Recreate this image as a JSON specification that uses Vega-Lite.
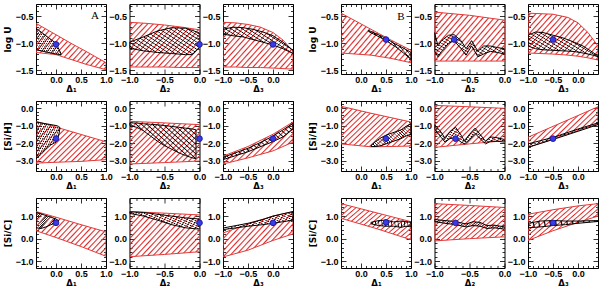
{
"$schema":"https://vega.github.io/schema/vega-lite/v6.json",
"padding":{"left":2,"top":1,"right":0,"bottom":0},
"background":"white",
"columns":7,
"spacing":{"row":27,"column":23.5},
"bounds":"flush",
"align":"each",
"config":{
"view":{"stroke":"#000","strokeWidth":1},
"axis":{"domain":false,"grid":false,"labelFont":"Liberation Sans","labelFontSize":9,"labelFontWeight":"bold","labelColor":"#000","labelFlush":false,"labelOverlap":false,"labelPadding":6,"tickColor":"#000","tickWidth":0.8,"titleFont":"DejaVu Sans","titleFontSize":8.5,"titleFontWeight":"bold","titleColor":"#000","titlePadding":-2},
"axisY":{"labelPadding":8,"titlePadding":3,"titleFontSize":9},
"style":{
"redhatch":{"stroke":"#e23a3a","strokeWidth":1,"color":{"gradient":"linear","x1":0,"y1":0,"x2":1.18,"y2":0.71,"stops":[
{"offset":0.012,"color":"rgba(226,38,38,0)"},{"offset":0.025,"color":"#e22626"},{"offset":0.038,"color":"rgba(226,38,38,0)"},
{"offset":0.062,"color":"rgba(226,38,38,0)"},{"offset":0.075,"color":"#e22626"},{"offset":0.088,"color":"rgba(226,38,38,0)"},
{"offset":0.112,"color":"rgba(226,38,38,0)"},{"offset":0.125,"color":"#e22626"},{"offset":0.138,"color":"rgba(226,38,38,0)"},
{"offset":0.162,"color":"rgba(226,38,38,0)"},{"offset":0.175,"color":"#e22626"},{"offset":0.188,"color":"rgba(226,38,38,0)"},
{"offset":0.212,"color":"rgba(226,38,38,0)"},{"offset":0.225,"color":"#e22626"},{"offset":0.238,"color":"rgba(226,38,38,0)"},
{"offset":0.262,"color":"rgba(226,38,38,0)"},{"offset":0.275,"color":"#e22626"},{"offset":0.288,"color":"rgba(226,38,38,0)"},
{"offset":0.312,"color":"rgba(226,38,38,0)"},{"offset":0.325,"color":"#e22626"},{"offset":0.338,"color":"rgba(226,38,38,0)"},
{"offset":0.362,"color":"rgba(226,38,38,0)"},{"offset":0.375,"color":"#e22626"},{"offset":0.388,"color":"rgba(226,38,38,0)"},
{"offset":0.412,"color":"rgba(226,38,38,0)"},{"offset":0.425,"color":"#e22626"},{"offset":0.438,"color":"rgba(226,38,38,0)"},
{"offset":0.462,"color":"rgba(226,38,38,0)"},{"offset":0.475,"color":"#e22626"},{"offset":0.488,"color":"rgba(226,38,38,0)"},
{"offset":0.512,"color":"rgba(226,38,38,0)"},{"offset":0.525,"color":"#e22626"},{"offset":0.538,"color":"rgba(226,38,38,0)"},
{"offset":0.562,"color":"rgba(226,38,38,0)"},{"offset":0.575,"color":"#e22626"},{"offset":0.588,"color":"rgba(226,38,38,0)"},
{"offset":0.612,"color":"rgba(226,38,38,0)"},{"offset":0.625,"color":"#e22626"},{"offset":0.638,"color":"rgba(226,38,38,0)"},
{"offset":0.662,"color":"rgba(226,38,38,0)"},{"offset":0.675,"color":"#e22626"},{"offset":0.688,"color":"rgba(226,38,38,0)"},
{"offset":0.712,"color":"rgba(226,38,38,0)"},{"offset":0.725,"color":"#e22626"},{"offset":0.738,"color":"rgba(226,38,38,0)"},
{"offset":0.762,"color":"rgba(226,38,38,0)"},{"offset":0.775,"color":"#e22626"},{"offset":0.788,"color":"rgba(226,38,38,0)"},
{"offset":0.812,"color":"rgba(226,38,38,0)"},{"offset":0.825,"color":"#e22626"},{"offset":0.838,"color":"rgba(226,38,38,0)"},
{"offset":0.862,"color":"rgba(226,38,38,0)"},{"offset":0.875,"color":"#e22626"},{"offset":0.888,"color":"rgba(226,38,38,0)"},
{"offset":0.912,"color":"rgba(226,38,38,0)"},{"offset":0.925,"color":"#e22626"},{"offset":0.938,"color":"rgba(226,38,38,0)"},
{"offset":0.962,"color":"rgba(226,38,38,0)"},{"offset":0.975,"color":"#e22626"},{"offset":0.988,"color":"rgba(226,38,38,0)"}]}},
"blackhatch":{"stroke":"#000","strokeWidth":1,"color":{"gradient":"linear","x1":1,"y1":0,"x2":-0.18,"y2":0.71,"stops":[
{"offset":0.014,"color":"rgba(0,0,0,0)"},{"offset":0.025,"color":"#000"},{"offset":0.036,"color":"rgba(0,0,0,0)"},
{"offset":0.064,"color":"rgba(0,0,0,0)"},{"offset":0.075,"color":"#000"},{"offset":0.086,"color":"rgba(0,0,0,0)"},
{"offset":0.114,"color":"rgba(0,0,0,0)"},{"offset":0.125,"color":"#000"},{"offset":0.136,"color":"rgba(0,0,0,0)"},
{"offset":0.164,"color":"rgba(0,0,0,0)"},{"offset":0.175,"color":"#000"},{"offset":0.186,"color":"rgba(0,0,0,0)"},
{"offset":0.214,"color":"rgba(0,0,0,0)"},{"offset":0.225,"color":"#000"},{"offset":0.236,"color":"rgba(0,0,0,0)"},
{"offset":0.264,"color":"rgba(0,0,0,0)"},{"offset":0.275,"color":"#000"},{"offset":0.286,"color":"rgba(0,0,0,0)"},
{"offset":0.314,"color":"rgba(0,0,0,0)"},{"offset":0.325,"color":"#000"},{"offset":0.336,"color":"rgba(0,0,0,0)"},
{"offset":0.364,"color":"rgba(0,0,0,0)"},{"offset":0.375,"color":"#000"},{"offset":0.386,"color":"rgba(0,0,0,0)"},
{"offset":0.414,"color":"rgba(0,0,0,0)"},{"offset":0.425,"color":"#000"},{"offset":0.436,"color":"rgba(0,0,0,0)"},
{"offset":0.464,"color":"rgba(0,0,0,0)"},{"offset":0.475,"color":"#000"},{"offset":0.486,"color":"rgba(0,0,0,0)"},
{"offset":0.514,"color":"rgba(0,0,0,0)"},{"offset":0.525,"color":"#000"},{"offset":0.536,"color":"rgba(0,0,0,0)"},
{"offset":0.564,"color":"rgba(0,0,0,0)"},{"offset":0.575,"color":"#000"},{"offset":0.586,"color":"rgba(0,0,0,0)"},
{"offset":0.614,"color":"rgba(0,0,0,0)"},{"offset":0.625,"color":"#000"},{"offset":0.636,"color":"rgba(0,0,0,0)"},
{"offset":0.664,"color":"rgba(0,0,0,0)"},{"offset":0.675,"color":"#000"},{"offset":0.686,"color":"rgba(0,0,0,0)"},
{"offset":0.714,"color":"rgba(0,0,0,0)"},{"offset":0.725,"color":"#000"},{"offset":0.736,"color":"rgba(0,0,0,0)"},
{"offset":0.764,"color":"rgba(0,0,0,0)"},{"offset":0.775,"color":"#000"},{"offset":0.786,"color":"rgba(0,0,0,0)"},
{"offset":0.814,"color":"rgba(0,0,0,0)"},{"offset":0.825,"color":"#000"},{"offset":0.836,"color":"rgba(0,0,0,0)"},
{"offset":0.864,"color":"rgba(0,0,0,0)"},{"offset":0.875,"color":"#000"},{"offset":0.886,"color":"rgba(0,0,0,0)"},
{"offset":0.914,"color":"rgba(0,0,0,0)"},{"offset":0.925,"color":"#000"},{"offset":0.936,"color":"rgba(0,0,0,0)"},
{"offset":0.964,"color":"rgba(0,0,0,0)"},{"offset":0.975,"color":"#000"},{"offset":0.986,"color":"rgba(0,0,0,0)"}]}}
}
},
"concat":[
{"width":70,"height":70,"resolve":{"axis":{"x":"independent","y":"independent"}},"layer":[
{"data":{"values":[{"x":-0.4,"lo":-1.17,"hi":-0.63},{"x":0,"lo":-1.21,"hi":-0.84},{"x":0.3,"lo":-1.3,"hi":-1.0},{"x":0.6,"lo":-1.39,"hi":-1.15},{"x":1,"lo":-1.49,"hi":-1.36}]},"mark":{"type":"area","style":"redhatch","clip":true},
"encoding":{"x":{"field":"x","type":"quantitative","scale":{"domain":[-0.4,1],"nice":false,"zero":false},"axis":{"orient":"bottom","values":[-0.4,-0.3,-0.2,-0.1,0,0.1,0.2,0.3,0.4,0.5,0.6,0.7,0.8,0.9,1],"labelExpr":"abs(datum.value*2-round(datum.value*2))<0.01 ? format(datum.value,'.1f') : ''","tickSize":{"condition":{"test":"abs(datum.value*2-round(datum.value*2))<0.01","value":-5},"value":-2.5},"title":"Δ₁"}},
"y":{"field":"lo","type":"quantitative","scale":{"domain":[-1.57,-0.27],"nice":false,"zero":false},"axis":{"orient":"left","values":[-1.5,-1.4,-1.3,-1.2,-1.1,-1,-0.9,-0.8,-0.7,-0.6,-0.5,-0.4,-0.3],"labelExpr":"abs(datum.value*2-round(datum.value*2))<0.01 ? format(datum.value,'.1f') : ''","tickSize":{"condition":{"test":"abs(datum.value*2-round(datum.value*2))<0.01","value":-5},"value":-2.5},"title":"log U"}},"y2":{"field":"hi"}}},
{"data":{"values":[{"x":-0.4,"lo":-1.12,"hi":-0.72},{"x":-0.2,"lo":-1.16,"hi":-0.86},{"x":0,"lo":-1.2,"hi":-1.0},{"x":0.1,"lo":-1.21,"hi":-1.19}]},"mark":{"type":"area","style":"blackhatch","clip":true},
"encoding":{"x":{"field":"x","type":"quantitative","scale":{"domain":[-0.4,1],"nice":false,"zero":false},"axis":{"orient":"top","values":[-0.4,-0.3,-0.2,-0.1,0,0.1,0.2,0.3,0.4,0.5,0.6,0.7,0.8,0.9,1],"labels":false,"title":null,"tickSize":{"condition":{"test":"abs(datum.value*2-round(datum.value*2))<0.01","value":-5},"value":-2.5}}},
"y":{"field":"lo","type":"quantitative","scale":{"domain":[-1.57,-0.27],"nice":false,"zero":false},"axis":{"orient":"right","values":[-1.5,-1.4,-1.3,-1.2,-1.1,-1,-0.9,-0.8,-0.7,-0.6,-0.5,-0.4,-0.3],"labels":false,"title":null,"tickSize":{"condition":{"test":"abs(datum.value*2-round(datum.value*2))<0.01","value":-5},"value":-2.5}}},"y2":{"field":"hi"}}},
{"data":{"values":[{"x":0,"lo":-1.02}]},"mark":{"type":"point","filled":true,"shape":"circle","size":32,"fill":"#3a3ae6","stroke":"#1c1ca8","strokeWidth":1,"opacity":1},
"encoding":{"x":{"field":"x","type":"quantitative","scale":{"domain":[-0.4,1],"nice":false,"zero":false},"axis":null},"y":{"field":"lo","type":"quantitative","scale":{"domain":[-1.57,-0.27],"nice":false,"zero":false},"axis":null}}},
{"data":{"values":[{"x":0.78,"lo":-0.5,"t":"A"}]},"mark":{"type":"text","font":"Liberation Serif","fontSize":11,"color":"#000"},
"encoding":{"x":{"field":"x","type":"quantitative","scale":{"domain":[-0.4,1],"nice":false,"zero":false},"axis":null},"y":{"field":"lo","type":"quantitative","scale":{"domain":[-1.57,-0.27],"nice":false,"zero":false},"axis":null},"text":{"field":"t"}}}
]},
{"width":70,"height":70,"resolve":{"axis":{"x":"independent","y":"independent"}},"layer":[
{"data":{"values":[{"x":-1,"lo":-1.44,"hi":-0.61},{"x":-0.75,"lo":-1.44,"hi":-0.63},{"x":-0.5,"lo":-1.44,"hi":-0.66},{"x":-0.25,"lo":-1.45,"hi":-0.7},{"x":0,"lo":-1.45,"hi":-0.75}]},"mark":{"type":"area","style":"redhatch","clip":true},
"encoding":{"x":{"field":"x","type":"quantitative","scale":{"domain":[-1,0],"nice":false,"zero":false},"axis":{"orient":"bottom","values":[-1,-0.9,-0.8,-0.7,-0.6,-0.5,-0.4,-0.3,-0.2,-0.1,0],"labelExpr":"abs(datum.value*2-round(datum.value*2))<0.01 ? format(datum.value,'.1f') : ''","tickSize":{"condition":{"test":"abs(datum.value*2-round(datum.value*2))<0.01","value":-5},"value":-2.5},"title":"Δ₂"}},
"y":{"field":"lo","type":"quantitative","scale":{"domain":[-1.57,-0.27],"nice":false,"zero":false},"axis":{"orient":"left","values":[-1.5,-1.4,-1.3,-1.2,-1.1,-1,-0.9,-0.8,-0.7,-0.6,-0.5,-0.4,-0.3],"labelExpr":"abs(datum.value*2-round(datum.value*2))<0.01 ? format(datum.value,'.1f') : ''","tickSize":{"condition":{"test":"abs(datum.value*2-round(datum.value*2))<0.01","value":-5},"value":-2.5},"title":null}},"y2":{"field":"hi"}}},
{"data":{"values":[{"x":-1,"lo":-1.09,"hi":-0.98},{"x":-0.8,"lo":-1.14,"hi":-0.88},{"x":-0.6,"lo":-1.17,"hi":-0.77},{"x":-0.4,"lo":-1.19,"hi":-0.71},{"x":-0.2,"lo":-1.21,"hi":-0.72},{"x":-0.1,"lo":-1.21,"hi":-0.76},{"x":0,"lo":-1.08,"hi":-0.81}]},"mark":{"type":"area","style":"blackhatch","clip":true},
"encoding":{"x":{"field":"x","type":"quantitative","scale":{"domain":[-1,0],"nice":false,"zero":false},"axis":{"orient":"top","values":[-1,-0.9,-0.8,-0.7,-0.6,-0.5,-0.4,-0.3,-0.2,-0.1,0],"labels":false,"title":null,"tickSize":{"condition":{"test":"abs(datum.value*2-round(datum.value*2))<0.01","value":-5},"value":-2.5}}},
"y":{"field":"lo","type":"quantitative","scale":{"domain":[-1.57,-0.27],"nice":false,"zero":false},"axis":{"orient":"right","values":[-1.5,-1.4,-1.3,-1.2,-1.1,-1,-0.9,-0.8,-0.7,-0.6,-0.5,-0.4,-0.3],"labels":false,"title":null,"tickSize":{"condition":{"test":"abs(datum.value*2-round(datum.value*2))<0.01","value":-5},"value":-2.5}}},"y2":{"field":"hi"}}},
{"data":{"values":[{"x":0,"lo":-1.02}]},"mark":{"type":"point","filled":true,"shape":"circle","size":32,"fill":"#3a3ae6","stroke":"#1c1ca8","strokeWidth":1,"opacity":1},
"encoding":{"x":{"field":"x","type":"quantitative","scale":{"domain":[-1,0],"nice":false,"zero":false},"axis":null},"y":{"field":"lo","type":"quantitative","scale":{"domain":[-1.57,-0.27],"nice":false,"zero":false},"axis":null}}}
]},
{"width":70,"height":70,"resolve":{"axis":{"x":"independent","y":"independent"}},"layer":[
{"data":{"values":[{"x":-1,"lo":-1.44,"hi":-0.61},{"x":-0.75,"lo":-1.44,"hi":-0.62},{"x":-0.5,"lo":-1.45,"hi":-0.65},{"x":-0.25,"lo":-1.45,"hi":-0.7},{"x":0,"lo":-1.46,"hi":-0.8},{"x":0.2,"lo":-1.47,"hi":-0.94},{"x":0.4,"lo":-1.48,"hi":-1.15}]},"mark":{"type":"area","style":"redhatch","clip":true},
"encoding":{"x":{"field":"x","type":"quantitative","scale":{"domain":[-1,0.4],"nice":false,"zero":false},"axis":{"orient":"bottom","values":[-1,-0.9,-0.8,-0.7,-0.6,-0.5,-0.4,-0.3,-0.2,-0.1,0,0.1,0.2,0.3,0.4],"labelExpr":"abs(datum.value*2-round(datum.value*2))<0.01 ? format(datum.value,'.1f') : ''","tickSize":{"condition":{"test":"abs(datum.value*2-round(datum.value*2))<0.01","value":-5},"value":-2.5},"title":"Δ₃"}},
"y":{"field":"lo","type":"quantitative","scale":{"domain":[-1.57,-0.27],"nice":false,"zero":false},"axis":{"orient":"left","values":[-1.5,-1.4,-1.3,-1.2,-1.1,-1,-0.9,-0.8,-0.7,-0.6,-0.5,-0.4,-0.3],"labelExpr":"abs(datum.value*2-round(datum.value*2))<0.01 ? format(datum.value,'.1f') : ''","tickSize":{"condition":{"test":"abs(datum.value*2-round(datum.value*2))<0.01","value":-5},"value":-2.5},"title":null}},"y2":{"field":"hi"}}},
{"data":{"values":[{"x":-1,"lo":-0.83,"hi":-0.74},{"x":-0.8,"lo":-0.86,"hi":-0.7},{"x":-0.6,"lo":-0.88,"hi":-0.71},{"x":-0.4,"lo":-0.93,"hi":-0.74},{"x":-0.2,"lo":-0.98,"hi":-0.79},{"x":0,"lo":-1.03,"hi":-0.86},{"x":0.2,"lo":-1.1,"hi":-0.98},{"x":0.4,"lo":-1.19,"hi":-1.13}]},"mark":{"type":"area","style":"blackhatch","clip":true},
"encoding":{"x":{"field":"x","type":"quantitative","scale":{"domain":[-1,0.4],"nice":false,"zero":false},"axis":{"orient":"top","values":[-1,-0.9,-0.8,-0.7,-0.6,-0.5,-0.4,-0.3,-0.2,-0.1,0,0.1,0.2,0.3,0.4],"labels":false,"title":null,"tickSize":{"condition":{"test":"abs(datum.value*2-round(datum.value*2))<0.01","value":-5},"value":-2.5}}},
"y":{"field":"lo","type":"quantitative","scale":{"domain":[-1.57,-0.27],"nice":false,"zero":false},"axis":{"orient":"right","values":[-1.5,-1.4,-1.3,-1.2,-1.1,-1,-0.9,-0.8,-0.7,-0.6,-0.5,-0.4,-0.3],"labels":false,"title":null,"tickSize":{"condition":{"test":"abs(datum.value*2-round(datum.value*2))<0.01","value":-5},"value":-2.5}}},"y2":{"field":"hi"}}},
{"data":{"values":[{"x":0,"lo":-1.02}]},"mark":{"type":"point","filled":true,"shape":"circle","size":32,"fill":"#3a3ae6","stroke":"#1c1ca8","strokeWidth":1,"opacity":1},
"encoding":{"x":{"field":"x","type":"quantitative","scale":{"domain":[-1,0.4],"nice":false,"zero":false},"axis":null},"y":{"field":"lo","type":"quantitative","scale":{"domain":[-1.57,-0.27],"nice":false,"zero":false},"axis":null}}}
]},
{"width":1,"height":70,"view":{"stroke":null},"data":{"values":[{"x":0}]},"mark":{"type":"point","opacity":0},"encoding":{"x":{"field":"x","type":"quantitative","axis":null},"y":{"field":"x","type":"quantitative","axis":null}}},
{"width":70,"height":70,"resolve":{"axis":{"x":"independent","y":"independent"}},"layer":[
{"data":{"values":[{"x":-0.4,"lo":-1.18,"hi":-0.44},{"x":0.2,"lo":-1.22,"hi":-0.74},{"x":0.6,"lo":-1.28,"hi":-0.94},{"x":1,"lo":-1.36,"hi":-1.13}]},"mark":{"type":"area","style":"redhatch","clip":true},
"encoding":{"x":{"field":"x","type":"quantitative","scale":{"domain":[-0.4,1],"nice":false,"zero":false},"axis":{"orient":"bottom","values":[-0.4,-0.3,-0.2,-0.1,0,0.1,0.2,0.3,0.4,0.5,0.6,0.7,0.8,0.9,1],"labelExpr":"abs(datum.value*2-round(datum.value*2))<0.01 ? format(datum.value,'.1f') : ''","tickSize":{"condition":{"test":"abs(datum.value*2-round(datum.value*2))<0.01","value":-5},"value":-2.5},"title":"Δ₁"}},
"y":{"field":"lo","type":"quantitative","scale":{"domain":[-1.57,-0.27],"nice":false,"zero":false},"axis":{"orient":"left","values":[-1.5,-1.4,-1.3,-1.2,-1.1,-1,-0.9,-0.8,-0.7,-0.6,-0.5,-0.4,-0.3],"labelExpr":"abs(datum.value*2-round(datum.value*2))<0.01 ? format(datum.value,'.1f') : ''","tickSize":{"condition":{"test":"abs(datum.value*2-round(datum.value*2))<0.01","value":-5},"value":-2.5},"title":"log U"}},"y2":{"field":"hi"}}},
{"data":{"values":[{"x":0.15,"lo":-0.78,"hi":-0.76},{"x":0.3,"lo":-0.85,"hi":-0.82},{"x":0.5,"lo":-0.95,"hi":-0.91},{"x":0.7,"lo":-1.07,"hi":-1.02},{"x":0.85,"lo":-1.18,"hi":-1.09},{"x":1,"lo":-1.3,"hi":-1.17}]},"mark":{"type":"area","style":"blackhatch","clip":true},
"encoding":{"x":{"field":"x","type":"quantitative","scale":{"domain":[-0.4,1],"nice":false,"zero":false},"axis":{"orient":"top","values":[-0.4,-0.3,-0.2,-0.1,0,0.1,0.2,0.3,0.4,0.5,0.6,0.7,0.8,0.9,1],"labels":false,"title":null,"tickSize":{"condition":{"test":"abs(datum.value*2-round(datum.value*2))<0.01","value":-5},"value":-2.5}}},
"y":{"field":"lo","type":"quantitative","scale":{"domain":[-1.57,-0.27],"nice":false,"zero":false},"axis":{"orient":"right","values":[-1.5,-1.4,-1.3,-1.2,-1.1,-1,-0.9,-0.8,-0.7,-0.6,-0.5,-0.4,-0.3],"labels":false,"title":null,"tickSize":{"condition":{"test":"abs(datum.value*2-round(datum.value*2))<0.01","value":-5},"value":-2.5}}},"y2":{"field":"hi"}}},
{"data":{"values":[{"x":0.5,"lo":-0.93}]},"mark":{"type":"point","filled":true,"shape":"circle","size":32,"fill":"#3a3ae6","stroke":"#1c1ca8","strokeWidth":1,"opacity":1},
"encoding":{"x":{"field":"x","type":"quantitative","scale":{"domain":[-0.4,1],"nice":false,"zero":false},"axis":null},"y":{"field":"lo","type":"quantitative","scale":{"domain":[-1.57,-0.27],"nice":false,"zero":false},"axis":null}}},
{"data":{"values":[{"x":0.8,"lo":-0.52,"t":"B"}]},"mark":{"type":"text","font":"Liberation Serif","fontSize":11,"color":"#000"},
"encoding":{"x":{"field":"x","type":"quantitative","scale":{"domain":[-0.4,1],"nice":false,"zero":false},"axis":null},"y":{"field":"lo","type":"quantitative","scale":{"domain":[-1.57,-0.27],"nice":false,"zero":false},"axis":null},"text":{"field":"t"}}}
]},
{"width":70,"height":70,"resolve":{"axis":{"x":"independent","y":"independent"}},"layer":[
{"data":{"values":[{"x":-1,"lo":-1.33,"hi":-0.42},{"x":-0.5,"lo":-1.33,"hi":-0.48},{"x":0,"lo":-1.33,"hi":-0.57}]},"mark":{"type":"area","style":"redhatch","clip":true},
"encoding":{"x":{"field":"x","type":"quantitative","scale":{"domain":[-1,0],"nice":false,"zero":false},"axis":{"orient":"bottom","values":[-1,-0.9,-0.8,-0.7,-0.6,-0.5,-0.4,-0.3,-0.2,-0.1,0],"labelExpr":"abs(datum.value*2-round(datum.value*2))<0.01 ? format(datum.value,'.1f') : ''","tickSize":{"condition":{"test":"abs(datum.value*2-round(datum.value*2))<0.01","value":-5},"value":-2.5},"title":"Δ₂"}},
"y":{"field":"lo","type":"quantitative","scale":{"domain":[-1.57,-0.27],"nice":false,"zero":false},"axis":{"orient":"left","values":[-1.5,-1.4,-1.3,-1.2,-1.1,-1,-0.9,-0.8,-0.7,-0.6,-0.5,-0.4,-0.3],"labelExpr":"abs(datum.value*2-round(datum.value*2))<0.01 ? format(datum.value,'.1f') : ''","tickSize":{"condition":{"test":"abs(datum.value*2-round(datum.value*2))<0.01","value":-5},"value":-2.5},"title":null}},"y2":{"field":"hi"}}},
{"data":{"values":[{"x":-1,"lo":-1.15,"hi":-0.8},{"x":-0.95,"lo":-1.25,"hi":-1.05},{"x":-0.9,"lo":-1.15,"hi":-0.95},{"x":-0.8,"lo":-1.0,"hi":-0.85},{"x":-0.72,"lo":-0.95,"hi":-0.84},{"x":-0.62,"lo":-1.1,"hi":-0.95},{"x":-0.55,"lo":-1.22,"hi":-1.1},{"x":-0.47,"lo":-1.05,"hi":-0.95},{"x":-0.38,"lo":-1.25,"hi":-1.15},{"x":-0.3,"lo":-1.2,"hi":-1.05},{"x":-0.2,"lo":-1.15,"hi":-1.05},{"x":-0.1,"lo":-1.17,"hi":-1.08},{"x":0,"lo":-1.2,"hi":-1.1}]},"mark":{"type":"area","style":"blackhatch","clip":true},
"encoding":{"x":{"field":"x","type":"quantitative","scale":{"domain":[-1,0],"nice":false,"zero":false},"axis":{"orient":"top","values":[-1,-0.9,-0.8,-0.7,-0.6,-0.5,-0.4,-0.3,-0.2,-0.1,0],"labels":false,"title":null,"tickSize":{"condition":{"test":"abs(datum.value*2-round(datum.value*2))<0.01","value":-5},"value":-2.5}}},
"y":{"field":"lo","type":"quantitative","scale":{"domain":[-1.57,-0.27],"nice":false,"zero":false},"axis":{"orient":"right","values":[-1.5,-1.4,-1.3,-1.2,-1.1,-1,-0.9,-0.8,-0.7,-0.6,-0.5,-0.4,-0.3],"labels":false,"title":null,"tickSize":{"condition":{"test":"abs(datum.value*2-round(datum.value*2))<0.01","value":-5},"value":-2.5}}},"y2":{"field":"hi"}}},
{"data":{"values":[{"x":-0.72,"lo":-0.93}]},"mark":{"type":"point","filled":true,"shape":"circle","size":32,"fill":"#3a3ae6","stroke":"#1c1ca8","strokeWidth":1,"opacity":1},
"encoding":{"x":{"field":"x","type":"quantitative","scale":{"domain":[-1,0],"nice":false,"zero":false},"axis":null},"y":{"field":"lo","type":"quantitative","scale":{"domain":[-1.57,-0.27],"nice":false,"zero":false},"axis":null}}}
]},
{"width":70,"height":70,"resolve":{"axis":{"x":"independent","y":"independent"}},"layer":[
{"data":{"values":[{"x":-1,"lo":-1.18,"hi":-0.44},{"x":-0.5,"lo":-1.2,"hi":-0.46},{"x":-0.2,"lo":-1.22,"hi":-0.52},{"x":0,"lo":-1.24,"hi":-0.62},{"x":0.2,"lo":-1.27,"hi":-0.8},{"x":0.4,"lo":-1.31,"hi":-1.05}]},"mark":{"type":"area","style":"redhatch","clip":true},
"encoding":{"x":{"field":"x","type":"quantitative","scale":{"domain":[-1,0.4],"nice":false,"zero":false},"axis":{"orient":"bottom","values":[-1,-0.9,-0.8,-0.7,-0.6,-0.5,-0.4,-0.3,-0.2,-0.1,0,0.1,0.2,0.3,0.4],"labelExpr":"abs(datum.value*2-round(datum.value*2))<0.01 ? format(datum.value,'.1f') : ''","tickSize":{"condition":{"test":"abs(datum.value*2-round(datum.value*2))<0.01","value":-5},"value":-2.5},"title":"Δ₃"}},
"y":{"field":"lo","type":"quantitative","scale":{"domain":[-1.57,-0.27],"nice":false,"zero":false},"axis":{"orient":"left","values":[-1.5,-1.4,-1.3,-1.2,-1.1,-1,-0.9,-0.8,-0.7,-0.6,-0.5,-0.4,-0.3],"labelExpr":"abs(datum.value*2-round(datum.value*2))<0.01 ? format(datum.value,'.1f') : ''","tickSize":{"condition":{"test":"abs(datum.value*2-round(datum.value*2))<0.01","value":-5},"value":-2.5},"title":null}},"y2":{"field":"hi"}}},
{"data":{"values":[{"x":-1,"lo":-1.05,"hi":-0.85},{"x":-0.85,"lo":-1.1,"hi":-0.79},{"x":-0.7,"lo":-1.12,"hi":-0.8},{"x":-0.5,"lo":-1.13,"hi":-0.85},{"x":-0.3,"lo":-1.14,"hi":-0.9},{"x":-0.1,"lo":-1.15,"hi":-0.97},{"x":0.1,"lo":-1.18,"hi":-1.05},{"x":0.3,"lo":-1.22,"hi":-1.17},{"x":0.4,"lo":-1.25,"hi":-1.24}]},"mark":{"type":"area","style":"blackhatch","clip":true},
"encoding":{"x":{"field":"x","type":"quantitative","scale":{"domain":[-1,0.4],"nice":false,"zero":false},"axis":{"orient":"top","values":[-1,-0.9,-0.8,-0.7,-0.6,-0.5,-0.4,-0.3,-0.2,-0.1,0,0.1,0.2,0.3,0.4],"labels":false,"title":null,"tickSize":{"condition":{"test":"abs(datum.value*2-round(datum.value*2))<0.01","value":-5},"value":-2.5}}},
"y":{"field":"lo","type":"quantitative","scale":{"domain":[-1.57,-0.27],"nice":false,"zero":false},"axis":{"orient":"right","values":[-1.5,-1.4,-1.3,-1.2,-1.1,-1,-0.9,-0.8,-0.7,-0.6,-0.5,-0.4,-0.3],"labels":false,"title":null,"tickSize":{"condition":{"test":"abs(datum.value*2-round(datum.value*2))<0.01","value":-5},"value":-2.5}}},"y2":{"field":"hi"}}},
{"data":{"values":[{"x":-0.5,"lo":-0.93}]},"mark":{"type":"point","filled":true,"shape":"circle","size":32,"fill":"#3a3ae6","stroke":"#1c1ca8","strokeWidth":1,"opacity":1},
"encoding":{"x":{"field":"x","type":"quantitative","scale":{"domain":[-1,0.4],"nice":false,"zero":false},"axis":null},"y":{"field":"lo","type":"quantitative","scale":{"domain":[-1.57,-0.27],"nice":false,"zero":false},"axis":null}}}
]},
{"width":70,"height":70,"resolve":{"axis":{"x":"independent","y":"independent"}},"layer":[
{"data":{"values":[{"x":-0.4,"lo":-3.15,"hi":-0.76},{"x":0,"lo":-3.1,"hi":-1.09},{"x":0.5,"lo":-3.05,"hi":-1.51},{"x":1,"lo":-2.95,"hi":-1.93}]},"mark":{"type":"area","style":"redhatch","clip":true},
"encoding":{"x":{"field":"x","type":"quantitative","scale":{"domain":[-0.4,1],"nice":false,"zero":false},"axis":{"orient":"bottom","values":[-0.4,-0.3,-0.2,-0.1,0,0.1,0.2,0.3,0.4,0.5,0.6,0.7,0.8,0.9,1],"labelExpr":"abs(datum.value*2-round(datum.value*2))<0.01 ? format(datum.value,'.1f') : ''","tickSize":{"condition":{"test":"abs(datum.value*2-round(datum.value*2))<0.01","value":-5},"value":-2.5},"title":"Δ₁"}},
"y":{"field":"lo","type":"quantitative","scale":{"domain":[-3.6,0.4],"nice":false,"zero":false},"axis":{"orient":"left","values":[-3.6,-3.4,-3.2,-3,-2.8,-2.6,-2.4,-2.2,-2,-1.8,-1.6,-1.4,-1.2,-1,-0.8,-0.6,-0.4,-0.2,0,0.2,0.4],"labelExpr":"abs(datum.value*2-round(datum.value*2))<0.01 ? format(datum.value,'.1f') : ''","tickSize":{"condition":{"test":"abs(datum.value*2-round(datum.value*2))<0.01","value":-5},"value":-2.5},"title":"[Si/H]"}},"y2":{"field":"hi"}}},
{"data":{"values":[{"x":-0.4,"lo":-2.9,"hi":-0.8},{"x":-0.3,"lo":-2.65,"hi":-0.85},{"x":-0.2,"lo":-2.35,"hi":-0.9},{"x":-0.1,"lo":-2.1,"hi":-0.95},{"x":0,"lo":-1.95,"hi":-1.0},{"x":0.05,"lo":-1.6,"hi":-1.05},{"x":0.08,"lo":-1.15,"hi":-1.12}]},"mark":{"type":"area","style":"blackhatch","clip":true},
"encoding":{"x":{"field":"x","type":"quantitative","scale":{"domain":[-0.4,1],"nice":false,"zero":false},"axis":{"orient":"top","values":[-0.4,-0.3,-0.2,-0.1,0,0.1,0.2,0.3,0.4,0.5,0.6,0.7,0.8,0.9,1],"labels":false,"title":null,"tickSize":{"condition":{"test":"abs(datum.value*2-round(datum.value*2))<0.01","value":-5},"value":-2.5}}},
"y":{"field":"lo","type":"quantitative","scale":{"domain":[-3.6,0.4],"nice":false,"zero":false},"axis":{"orient":"right","values":[-3.6,-3.4,-3.2,-3,-2.8,-2.6,-2.4,-2.2,-2,-1.8,-1.6,-1.4,-1.2,-1,-0.8,-0.6,-0.4,-0.2,0,0.2,0.4],"labels":false,"title":null,"tickSize":{"condition":{"test":"abs(datum.value*2-round(datum.value*2))<0.01","value":-5},"value":-2.5}}},"y2":{"field":"hi"}}},
{"data":{"values":[{"x":0,"lo":-1.75}]},"mark":{"type":"point","filled":true,"shape":"circle","size":32,"fill":"#3a3ae6","stroke":"#1c1ca8","strokeWidth":1,"opacity":1},
"encoding":{"x":{"field":"x","type":"quantitative","scale":{"domain":[-0.4,1],"nice":false,"zero":false},"axis":null},"y":{"field":"lo","type":"quantitative","scale":{"domain":[-3.6,0.4],"nice":false,"zero":false},"axis":null}}}
]},
{"width":70,"height":70,"resolve":{"axis":{"x":"independent","y":"independent"}},"layer":[
{"data":{"values":[{"x":-1,"lo":-3.2,"hi":-0.76},{"x":-0.5,"lo":-3.12,"hi":-0.85},{"x":0,"lo":-3.03,"hi":-0.95}]},"mark":{"type":"area","style":"redhatch","clip":true},
"encoding":{"x":{"field":"x","type":"quantitative","scale":{"domain":[-1,0],"nice":false,"zero":false},"axis":{"orient":"bottom","values":[-1,-0.9,-0.8,-0.7,-0.6,-0.5,-0.4,-0.3,-0.2,-0.1,0],"labelExpr":"abs(datum.value*2-round(datum.value*2))<0.01 ? format(datum.value,'.1f') : ''","tickSize":{"condition":{"test":"abs(datum.value*2-round(datum.value*2))<0.01","value":-5},"value":-2.5},"title":"Δ₂"}},
"y":{"field":"lo","type":"quantitative","scale":{"domain":[-3.6,0.4],"nice":false,"zero":false},"axis":{"orient":"left","values":[-3.6,-3.4,-3.2,-3,-2.8,-2.6,-2.4,-2.2,-2,-1.8,-1.6,-1.4,-1.2,-1,-0.8,-0.6,-0.4,-0.2,0,0.2,0.4],"labelExpr":"abs(datum.value*2-round(datum.value*2))<0.01 ? format(datum.value,'.1f') : ''","tickSize":{"condition":{"test":"abs(datum.value*2-round(datum.value*2))<0.01","value":-5},"value":-2.5},"title":null}},"y2":{"field":"hi"}}},
{"data":{"values":[{"x":-1,"lo":-1.0,"hi":-0.85},{"x":-0.9,"lo":-1.1,"hi":-0.86},{"x":-0.8,"lo":-1.3,"hi":-0.9},{"x":-0.7,"lo":-1.6,"hi":-0.93},{"x":-0.6,"lo":-1.9,"hi":-0.96},{"x":-0.5,"lo":-2.15,"hi":-1.0},{"x":-0.4,"lo":-2.35,"hi":-1.05},{"x":-0.3,"lo":-2.55,"hi":-1.1},{"x":-0.2,"lo":-2.72,"hi":-1.15},{"x":-0.1,"lo":-2.85,"hi":-1.2},{"x":-0.05,"lo":-2.9,"hi":-1.25}]},"mark":{"type":"area","style":"blackhatch","clip":true},
"encoding":{"x":{"field":"x","type":"quantitative","scale":{"domain":[-1,0],"nice":false,"zero":false},"axis":{"orient":"top","values":[-1,-0.9,-0.8,-0.7,-0.6,-0.5,-0.4,-0.3,-0.2,-0.1,0],"labels":false,"title":null,"tickSize":{"condition":{"test":"abs(datum.value*2-round(datum.value*2))<0.01","value":-5},"value":-2.5}}},
"y":{"field":"lo","type":"quantitative","scale":{"domain":[-3.6,0.4],"nice":false,"zero":false},"axis":{"orient":"right","values":[-3.6,-3.4,-3.2,-3,-2.8,-2.6,-2.4,-2.2,-2,-1.8,-1.6,-1.4,-1.2,-1,-0.8,-0.6,-0.4,-0.2,0,0.2,0.4],"labels":false,"title":null,"tickSize":{"condition":{"test":"abs(datum.value*2-round(datum.value*2))<0.01","value":-5},"value":-2.5}}},"y2":{"field":"hi"}}},
{"data":{"values":[{"x":0,"lo":-1.75}]},"mark":{"type":"point","filled":true,"shape":"circle","size":32,"fill":"#3a3ae6","stroke":"#1c1ca8","strokeWidth":1,"opacity":1},
"encoding":{"x":{"field":"x","type":"quantitative","scale":{"domain":[-1,0],"nice":false,"zero":false},"axis":null},"y":{"field":"lo","type":"quantitative","scale":{"domain":[-3.6,0.4],"nice":false,"zero":false},"axis":null}}}
]},
{"width":70,"height":70,"resolve":{"axis":{"x":"independent","y":"independent"}},"layer":[
{"data":{"values":[{"x":-1,"lo":-3.2,"hi":-2.75},{"x":-0.5,"lo":-2.85,"hi":-2.2},{"x":0,"lo":-2.45,"hi":-1.5},{"x":0.4,"lo":-1.95,"hi":-0.8}]},"mark":{"type":"area","style":"redhatch","clip":true},
"encoding":{"x":{"field":"x","type":"quantitative","scale":{"domain":[-1,0.4],"nice":false,"zero":false},"axis":{"orient":"bottom","values":[-1,-0.9,-0.8,-0.7,-0.6,-0.5,-0.4,-0.3,-0.2,-0.1,0,0.1,0.2,0.3,0.4],"labelExpr":"abs(datum.value*2-round(datum.value*2))<0.01 ? format(datum.value,'.1f') : ''","tickSize":{"condition":{"test":"abs(datum.value*2-round(datum.value*2))<0.01","value":-5},"value":-2.5},"title":"Δ₃"}},
"y":{"field":"lo","type":"quantitative","scale":{"domain":[-3.6,0.4],"nice":false,"zero":false},"axis":{"orient":"left","values":[-3.6,-3.4,-3.2,-3,-2.8,-2.6,-2.4,-2.2,-2,-1.8,-1.6,-1.4,-1.2,-1,-0.8,-0.6,-0.4,-0.2,0,0.2,0.4],"labelExpr":"abs(datum.value*2-round(datum.value*2))<0.01 ? format(datum.value,'.1f') : ''","tickSize":{"condition":{"test":"abs(datum.value*2-round(datum.value*2))<0.01","value":-5},"value":-2.5},"title":null}},"y2":{"field":"hi"}}},
{"data":{"values":[{"x":-1,"lo":-2.95,"hi":-2.82},{"x":-0.5,"lo":-2.5,"hi":-2.3},{"x":-0.2,"lo":-2.15,"hi":-1.9},{"x":0,"lo":-1.92,"hi":-1.6},{"x":0.2,"lo":-1.65,"hi":-1.25},{"x":0.4,"lo":-1.2,"hi":-0.88}]},"mark":{"type":"area","style":"blackhatch","clip":true},
"encoding":{"x":{"field":"x","type":"quantitative","scale":{"domain":[-1,0.4],"nice":false,"zero":false},"axis":{"orient":"top","values":[-1,-0.9,-0.8,-0.7,-0.6,-0.5,-0.4,-0.3,-0.2,-0.1,0,0.1,0.2,0.3,0.4],"labels":false,"title":null,"tickSize":{"condition":{"test":"abs(datum.value*2-round(datum.value*2))<0.01","value":-5},"value":-2.5}}},
"y":{"field":"lo","type":"quantitative","scale":{"domain":[-3.6,0.4],"nice":false,"zero":false},"axis":{"orient":"right","values":[-3.6,-3.4,-3.2,-3,-2.8,-2.6,-2.4,-2.2,-2,-1.8,-1.6,-1.4,-1.2,-1,-0.8,-0.6,-0.4,-0.2,0,0.2,0.4],"labels":false,"title":null,"tickSize":{"condition":{"test":"abs(datum.value*2-round(datum.value*2))<0.01","value":-5},"value":-2.5}}},"y2":{"field":"hi"}}},
{"data":{"values":[{"x":0,"lo":-1.75}]},"mark":{"type":"point","filled":true,"shape":"circle","size":32,"fill":"#3a3ae6","stroke":"#1c1ca8","strokeWidth":1,"opacity":1},
"encoding":{"x":{"field":"x","type":"quantitative","scale":{"domain":[-1,0.4],"nice":false,"zero":false},"axis":null},"y":{"field":"lo","type":"quantitative","scale":{"domain":[-3.6,0.4],"nice":false,"zero":false},"axis":null}}}
]},
{"width":1,"height":70,"view":{"stroke":null},"data":{"values":[{"x":0}]},"mark":{"type":"point","opacity":0},"encoding":{"x":{"field":"x","type":"quantitative","axis":null},"y":{"field":"x","type":"quantitative","axis":null}}},
{"width":70,"height":70,"resolve":{"axis":{"x":"independent","y":"independent"}},"layer":[
{"data":{"values":[{"x":-0.4,"lo":-2.05,"hi":0.1},{"x":0.2,"lo":-2.22,"hi":-0.3},{"x":0.6,"lo":-2.2,"hi":-0.55},{"x":1,"lo":-2.17,"hi":-0.8}]},"mark":{"type":"area","style":"redhatch","clip":true},
"encoding":{"x":{"field":"x","type":"quantitative","scale":{"domain":[-0.4,1],"nice":false,"zero":false},"axis":{"orient":"bottom","values":[-0.4,-0.3,-0.2,-0.1,0,0.1,0.2,0.3,0.4,0.5,0.6,0.7,0.8,0.9,1],"labelExpr":"abs(datum.value*2-round(datum.value*2))<0.01 ? format(datum.value,'.1f') : ''","tickSize":{"condition":{"test":"abs(datum.value*2-round(datum.value*2))<0.01","value":-5},"value":-2.5},"title":"Δ₁"}},
"y":{"field":"lo","type":"quantitative","scale":{"domain":[-3.6,0.4],"nice":false,"zero":false},"axis":{"orient":"left","values":[-3.6,-3.4,-3.2,-3,-2.8,-2.6,-2.4,-2.2,-2,-1.8,-1.6,-1.4,-1.2,-1,-0.8,-0.6,-0.4,-0.2,0,0.2,0.4],"labelExpr":"abs(datum.value*2-round(datum.value*2))<0.01 ? format(datum.value,'.1f') : ''","tickSize":{"condition":{"test":"abs(datum.value*2-round(datum.value*2))<0.01","value":-5},"value":-2.5},"title":"[Si/H]"}},"y2":{"field":"hi"}}},
{"data":{"values":[{"x":0.2,"lo":-2.2,"hi":-2.15},{"x":0.3,"lo":-2.2,"hi":-1.9},{"x":0.4,"lo":-2.15,"hi":-1.7},{"x":0.5,"lo":-2.05,"hi":-1.55},{"x":0.6,"lo":-1.95,"hi":-1.45},{"x":0.7,"lo":-1.85,"hi":-1.35},{"x":0.8,"lo":-1.75,"hi":-1.25},{"x":0.9,"lo":-1.6,"hi":-1.05},{"x":1,"lo":-1.5,"hi":-0.9}]},"mark":{"type":"area","style":"blackhatch","clip":true},
"encoding":{"x":{"field":"x","type":"quantitative","scale":{"domain":[-0.4,1],"nice":false,"zero":false},"axis":{"orient":"top","values":[-0.4,-0.3,-0.2,-0.1,0,0.1,0.2,0.3,0.4,0.5,0.6,0.7,0.8,0.9,1],"labels":false,"title":null,"tickSize":{"condition":{"test":"abs(datum.value*2-round(datum.value*2))<0.01","value":-5},"value":-2.5}}},
"y":{"field":"lo","type":"quantitative","scale":{"domain":[-3.6,0.4],"nice":false,"zero":false},"axis":{"orient":"right","values":[-3.6,-3.4,-3.2,-3,-2.8,-2.6,-2.4,-2.2,-2,-1.8,-1.6,-1.4,-1.2,-1,-0.8,-0.6,-0.4,-0.2,0,0.2,0.4],"labels":false,"title":null,"tickSize":{"condition":{"test":"abs(datum.value*2-round(datum.value*2))<0.01","value":-5},"value":-2.5}}},"y2":{"field":"hi"}}},
{"data":{"values":[{"x":0.5,"lo":-1.75}]},"mark":{"type":"point","filled":true,"shape":"circle","size":32,"fill":"#3a3ae6","stroke":"#1c1ca8","strokeWidth":1,"opacity":1},
"encoding":{"x":{"field":"x","type":"quantitative","scale":{"domain":[-0.4,1],"nice":false,"zero":false},"axis":null},"y":{"field":"lo","type":"quantitative","scale":{"domain":[-3.6,0.4],"nice":false,"zero":false},"axis":null}}}
]},
{"width":70,"height":70,"resolve":{"axis":{"x":"independent","y":"independent"}},"layer":[
{"data":{"values":[{"x":-1,"lo":-2.25,"hi":0.15},{"x":-0.5,"lo":-2.05,"hi":0.07},{"x":0,"lo":-1.87,"hi":-0.02}]},"mark":{"type":"area","style":"redhatch","clip":true},
"encoding":{"x":{"field":"x","type":"quantitative","scale":{"domain":[-1,0],"nice":false,"zero":false},"axis":{"orient":"bottom","values":[-1,-0.9,-0.8,-0.7,-0.6,-0.5,-0.4,-0.3,-0.2,-0.1,0],"labelExpr":"abs(datum.value*2-round(datum.value*2))<0.01 ? format(datum.value,'.1f') : ''","tickSize":{"condition":{"test":"abs(datum.value*2-round(datum.value*2))<0.01","value":-5},"value":-2.5},"title":"Δ₂"}},
"y":{"field":"lo","type":"quantitative","scale":{"domain":[-3.6,0.4],"nice":false,"zero":false},"axis":{"orient":"left","values":[-3.6,-3.4,-3.2,-3,-2.8,-2.6,-2.4,-2.2,-2,-1.8,-1.6,-1.4,-1.2,-1,-0.8,-0.6,-0.4,-0.2,0,0.2,0.4],"labelExpr":"abs(datum.value*2-round(datum.value*2))<0.01 ? format(datum.value,'.1f') : ''","tickSize":{"condition":{"test":"abs(datum.value*2-round(datum.value*2))<0.01","value":-5},"value":-2.5},"title":null}},"y2":{"field":"hi"}}},
{"data":{"values":[{"x":-1,"lo":-1.2,"hi":-0.95},{"x":-0.9,"lo":-1.7,"hi":-1.4},{"x":-0.85,"lo":-1.95,"hi":-1.75},{"x":-0.78,"lo":-1.75,"hi":-1.35},{"x":-0.7,"lo":-1.7,"hi":-1.1},{"x":-0.62,"lo":-1.95,"hi":-1.55},{"x":-0.57,"lo":-2.05,"hi":-1.9},{"x":-0.5,"lo":-1.8,"hi":-1.5},{"x":-0.42,"lo":-1.45,"hi":-1.15},{"x":-0.35,"lo":-1.75,"hi":-1.5},{"x":-0.27,"lo":-2.05,"hi":-1.9},{"x":-0.2,"lo":-1.9,"hi":-1.65},{"x":-0.1,"lo":-1.9,"hi":-1.7},{"x":0,"lo":-1.95,"hi":-1.8}]},"mark":{"type":"area","style":"blackhatch","clip":true},
"encoding":{"x":{"field":"x","type":"quantitative","scale":{"domain":[-1,0],"nice":false,"zero":false},"axis":{"orient":"top","values":[-1,-0.9,-0.8,-0.7,-0.6,-0.5,-0.4,-0.3,-0.2,-0.1,0],"labels":false,"title":null,"tickSize":{"condition":{"test":"abs(datum.value*2-round(datum.value*2))<0.01","value":-5},"value":-2.5}}},
"y":{"field":"lo","type":"quantitative","scale":{"domain":[-3.6,0.4],"nice":false,"zero":false},"axis":{"orient":"right","values":[-3.6,-3.4,-3.2,-3,-2.8,-2.6,-2.4,-2.2,-2,-1.8,-1.6,-1.4,-1.2,-1,-0.8,-0.6,-0.4,-0.2,0,0.2,0.4],"labels":false,"title":null,"tickSize":{"condition":{"test":"abs(datum.value*2-round(datum.value*2))<0.01","value":-5},"value":-2.5}}},"y2":{"field":"hi"}}},
{"data":{"values":[{"x":-0.7,"lo":-1.75}]},"mark":{"type":"point","filled":true,"shape":"circle","size":32,"fill":"#3a3ae6","stroke":"#1c1ca8","strokeWidth":1,"opacity":1},
"encoding":{"x":{"field":"x","type":"quantitative","scale":{"domain":[-1,0],"nice":false,"zero":false},"axis":null},"y":{"field":"lo","type":"quantitative","scale":{"domain":[-3.6,0.4],"nice":false,"zero":false},"axis":null}}}
]},
{"width":70,"height":70,"resolve":{"axis":{"x":"independent","y":"independent"}},"layer":[
{"data":{"values":[{"x":-1,"lo":-2.25,"hi":-1.67},{"x":-0.5,"lo":-1.76,"hi":-1.05},{"x":0,"lo":-1.28,"hi":-0.43},{"x":0.4,"lo":-0.89,"hi":0.07}]},"mark":{"type":"area","style":"redhatch","clip":true},
"encoding":{"x":{"field":"x","type":"quantitative","scale":{"domain":[-1,0.4],"nice":false,"zero":false},"axis":{"orient":"bottom","values":[-1,-0.9,-0.8,-0.7,-0.6,-0.5,-0.4,-0.3,-0.2,-0.1,0,0.1,0.2,0.3,0.4],"labelExpr":"abs(datum.value*2-round(datum.value*2))<0.01 ? format(datum.value,'.1f') : ''","tickSize":{"condition":{"test":"abs(datum.value*2-round(datum.value*2))<0.01","value":-5},"value":-2.5},"title":"Δ₃"}},
"y":{"field":"lo","type":"quantitative","scale":{"domain":[-3.6,0.4],"nice":false,"zero":false},"axis":{"orient":"left","values":[-3.6,-3.4,-3.2,-3,-2.8,-2.6,-2.4,-2.2,-2,-1.8,-1.6,-1.4,-1.2,-1,-0.8,-0.6,-0.4,-0.2,0,0.2,0.4],"labelExpr":"abs(datum.value*2-round(datum.value*2))<0.01 ? format(datum.value,'.1f') : ''","tickSize":{"condition":{"test":"abs(datum.value*2-round(datum.value*2))<0.01","value":-5},"value":-2.5},"title":null}},"y2":{"field":"hi"}}},
{"data":{"values":[{"x":-1,"lo":-2.25,"hi":-2.05},{"x":-0.5,"lo":-1.8,"hi":-1.68},{"x":0,"lo":-1.33,"hi":-1.2},{"x":0.4,"lo":-0.95,"hi":-0.85}]},"mark":{"type":"area","style":"blackhatch","clip":true},
"encoding":{"x":{"field":"x","type":"quantitative","scale":{"domain":[-1,0.4],"nice":false,"zero":false},"axis":{"orient":"top","values":[-1,-0.9,-0.8,-0.7,-0.6,-0.5,-0.4,-0.3,-0.2,-0.1,0,0.1,0.2,0.3,0.4],"labels":false,"title":null,"tickSize":{"condition":{"test":"abs(datum.value*2-round(datum.value*2))<0.01","value":-5},"value":-2.5}}},
"y":{"field":"lo","type":"quantitative","scale":{"domain":[-3.6,0.4],"nice":false,"zero":false},"axis":{"orient":"right","values":[-3.6,-3.4,-3.2,-3,-2.8,-2.6,-2.4,-2.2,-2,-1.8,-1.6,-1.4,-1.2,-1,-0.8,-0.6,-0.4,-0.2,0,0.2,0.4],"labels":false,"title":null,"tickSize":{"condition":{"test":"abs(datum.value*2-round(datum.value*2))<0.01","value":-5},"value":-2.5}}},"y2":{"field":"hi"}}},
{"data":{"values":[{"x":-0.5,"lo":-1.75}]},"mark":{"type":"point","filled":true,"shape":"circle","size":32,"fill":"#3a3ae6","stroke":"#1c1ca8","strokeWidth":1,"opacity":1},
"encoding":{"x":{"field":"x","type":"quantitative","scale":{"domain":[-1,0.4],"nice":false,"zero":false},"axis":null},"y":{"field":"lo","type":"quantitative","scale":{"domain":[-3.6,0.4],"nice":false,"zero":false},"axis":null}}}
]},
{"width":70,"height":70,"resolve":{"axis":{"x":"independent","y":"independent"}},"layer":[
{"data":{"values":[{"x":-0.4,"lo":0.35,"hi":1.2},{"x":0,"lo":0.05,"hi":0.95},{"x":0.5,"lo":-0.35,"hi":0.62},{"x":1,"lo":-0.78,"hi":0.3}]},"mark":{"type":"area","style":"redhatch","clip":true},
"encoding":{"x":{"field":"x","type":"quantitative","scale":{"domain":[-0.4,1],"nice":false,"zero":false},"axis":{"orient":"bottom","values":[-0.4,-0.3,-0.2,-0.1,0,0.1,0.2,0.3,0.4,0.5,0.6,0.7,0.8,0.9,1],"labelExpr":"abs(datum.value*2-round(datum.value*2))<0.01 ? format(datum.value,'.1f') : ''","tickSize":{"condition":{"test":"abs(datum.value*2-round(datum.value*2))<0.01","value":-5},"value":-2.5},"title":"Δ₁"}},
"y":{"field":"lo","type":"quantitative","scale":{"domain":[-1.3,1.8],"nice":false,"zero":false},"axis":{"orient":"left","values":[-1.2,-1,-0.8,-0.6,-0.4,-0.2,0,0.2,0.4,0.6,0.8,1,1.2,1.4,1.6,1.8],"labelExpr":"abs(datum.value*2-round(datum.value*2))<0.01 ? format(datum.value,'.1f') : ''","tickSize":{"condition":{"test":"abs(datum.value*2-round(datum.value*2))<0.01","value":-5},"value":-2.5},"title":"[Si/C]"}},"y2":{"field":"hi"}}},
{"data":{"values":[{"x":-0.4,"lo":0.48,"hi":1.16},{"x":-0.3,"lo":0.45,"hi":1.1},{"x":-0.2,"lo":0.52,"hi":1.02},{"x":-0.1,"lo":0.62,"hi":0.95},{"x":0,"lo":0.7,"hi":0.87},{"x":0.05,"lo":0.76,"hi":0.8}]},"mark":{"type":"area","style":"blackhatch","clip":true},
"encoding":{"x":{"field":"x","type":"quantitative","scale":{"domain":[-0.4,1],"nice":false,"zero":false},"axis":{"orient":"top","values":[-0.4,-0.3,-0.2,-0.1,0,0.1,0.2,0.3,0.4,0.5,0.6,0.7,0.8,0.9,1],"labels":false,"title":null,"tickSize":{"condition":{"test":"abs(datum.value*2-round(datum.value*2))<0.01","value":-5},"value":-2.5}}},
"y":{"field":"lo","type":"quantitative","scale":{"domain":[-1.3,1.8],"nice":false,"zero":false},"axis":{"orient":"right","values":[-1.2,-1,-0.8,-0.6,-0.4,-0.2,0,0.2,0.4,0.6,0.8,1,1.2,1.4,1.6,1.8],"labels":false,"title":null,"tickSize":{"condition":{"test":"abs(datum.value*2-round(datum.value*2))<0.01","value":-5},"value":-2.5}}},"y2":{"field":"hi"}}},
{"data":{"values":[{"x":0,"lo":0.7}]},"mark":{"type":"point","filled":true,"shape":"circle","size":32,"fill":"#3a3ae6","stroke":"#1c1ca8","strokeWidth":1,"opacity":1},
"encoding":{"x":{"field":"x","type":"quantitative","scale":{"domain":[-0.4,1],"nice":false,"zero":false},"axis":null},"y":{"field":"lo","type":"quantitative","scale":{"domain":[-1.3,1.8],"nice":false,"zero":false},"axis":null}}}
]},
{"width":70,"height":70,"resolve":{"axis":{"x":"independent","y":"independent"}},"layer":[
{"data":{"values":[{"x":-1,"lo":-0.8,"hi":1.2},{"x":-0.5,"lo":-0.7,"hi":1.13},{"x":0,"lo":-0.58,"hi":1.05}]},"mark":{"type":"area","style":"redhatch","clip":true},
"encoding":{"x":{"field":"x","type":"quantitative","scale":{"domain":[-1,0],"nice":false,"zero":false},"axis":{"orient":"bottom","values":[-1,-0.9,-0.8,-0.7,-0.6,-0.5,-0.4,-0.3,-0.2,-0.1,0],"labelExpr":"abs(datum.value*2-round(datum.value*2))<0.01 ? format(datum.value,'.1f') : ''","tickSize":{"condition":{"test":"abs(datum.value*2-round(datum.value*2))<0.01","value":-5},"value":-2.5},"title":"Δ₂"}},
"y":{"field":"lo","type":"quantitative","scale":{"domain":[-1.3,1.8],"nice":false,"zero":false},"axis":{"orient":"left","values":[-1.2,-1,-0.8,-0.6,-0.4,-0.2,0,0.2,0.4,0.6,0.8,1,1.2,1.4,1.6,1.8],"labelExpr":"abs(datum.value*2-round(datum.value*2))<0.01 ? format(datum.value,'.1f') : ''","tickSize":{"condition":{"test":"abs(datum.value*2-round(datum.value*2))<0.01","value":-5},"value":-2.5},"title":null}},"y2":{"field":"hi"}}},
{"data":{"values":[{"x":-1,"lo":1.12,"hi":1.19},{"x":-0.8,"lo":1.0,"hi":1.16},{"x":-0.6,"lo":0.82,"hi":1.08},{"x":-0.4,"lo":0.62,"hi":1.0},{"x":-0.2,"lo":0.48,"hi":0.92},{"x":0,"lo":0.42,"hi":0.87}]},"mark":{"type":"area","style":"blackhatch","clip":true},
"encoding":{"x":{"field":"x","type":"quantitative","scale":{"domain":[-1,0],"nice":false,"zero":false},"axis":{"orient":"top","values":[-1,-0.9,-0.8,-0.7,-0.6,-0.5,-0.4,-0.3,-0.2,-0.1,0],"labels":false,"title":null,"tickSize":{"condition":{"test":"abs(datum.value*2-round(datum.value*2))<0.01","value":-5},"value":-2.5}}},
"y":{"field":"lo","type":"quantitative","scale":{"domain":[-1.3,1.8],"nice":false,"zero":false},"axis":{"orient":"right","values":[-1.2,-1,-0.8,-0.6,-0.4,-0.2,0,0.2,0.4,0.6,0.8,1,1.2,1.4,1.6,1.8],"labels":false,"title":null,"tickSize":{"condition":{"test":"abs(datum.value*2-round(datum.value*2))<0.01","value":-5},"value":-2.5}}},"y2":{"field":"hi"}}},
{"data":{"values":[{"x":0,"lo":0.7}]},"mark":{"type":"point","filled":true,"shape":"circle","size":32,"fill":"#3a3ae6","stroke":"#1c1ca8","strokeWidth":1,"opacity":1},
"encoding":{"x":{"field":"x","type":"quantitative","scale":{"domain":[-1,0],"nice":false,"zero":false},"axis":null},"y":{"field":"lo","type":"quantitative","scale":{"domain":[-1.3,1.8],"nice":false,"zero":false},"axis":null}}}
]},
{"width":70,"height":70,"resolve":{"axis":{"x":"independent","y":"independent"}},"layer":[
{"data":{"values":[{"x":-1,"lo":-0.81,"hi":0.25},{"x":-0.5,"lo":-0.51,"hi":0.65},{"x":0,"lo":-0.08,"hi":1.0},{"x":0.4,"lo":0.21,"hi":1.2}]},"mark":{"type":"area","style":"redhatch","clip":true},
"encoding":{"x":{"field":"x","type":"quantitative","scale":{"domain":[-1,0.4],"nice":false,"zero":false},"axis":{"orient":"bottom","values":[-1,-0.9,-0.8,-0.7,-0.6,-0.5,-0.4,-0.3,-0.2,-0.1,0,0.1,0.2,0.3,0.4],"labelExpr":"abs(datum.value*2-round(datum.value*2))<0.01 ? format(datum.value,'.1f') : ''","tickSize":{"condition":{"test":"abs(datum.value*2-round(datum.value*2))<0.01","value":-5},"value":-2.5},"title":"Δ₃"}},
"y":{"field":"lo","type":"quantitative","scale":{"domain":[-1.3,1.8],"nice":false,"zero":false},"axis":{"orient":"left","values":[-1.2,-1,-0.8,-0.6,-0.4,-0.2,0,0.2,0.4,0.6,0.8,1,1.2,1.4,1.6,1.8],"labelExpr":"abs(datum.value*2-round(datum.value*2))<0.01 ? format(datum.value,'.1f') : ''","tickSize":{"condition":{"test":"abs(datum.value*2-round(datum.value*2))<0.01","value":-5},"value":-2.5},"title":null}},"y2":{"field":"hi"}}},
{"data":{"values":[{"x":-1,"lo":0.4,"hi":0.47},{"x":-0.5,"lo":0.55,"hi":0.68},{"x":-0.2,"lo":0.62,"hi":0.85},{"x":0,"lo":0.68,"hi":1.0},{"x":0.2,"lo":0.75,"hi":1.1},{"x":0.4,"lo":0.82,"hi":1.2}]},"mark":{"type":"area","style":"blackhatch","clip":true},
"encoding":{"x":{"field":"x","type":"quantitative","scale":{"domain":[-1,0.4],"nice":false,"zero":false},"axis":{"orient":"top","values":[-1,-0.9,-0.8,-0.7,-0.6,-0.5,-0.4,-0.3,-0.2,-0.1,0,0.1,0.2,0.3,0.4],"labels":false,"title":null,"tickSize":{"condition":{"test":"abs(datum.value*2-round(datum.value*2))<0.01","value":-5},"value":-2.5}}},
"y":{"field":"lo","type":"quantitative","scale":{"domain":[-1.3,1.8],"nice":false,"zero":false},"axis":{"orient":"right","values":[-1.2,-1,-0.8,-0.6,-0.4,-0.2,0,0.2,0.4,0.6,0.8,1,1.2,1.4,1.6,1.8],"labels":false,"title":null,"tickSize":{"condition":{"test":"abs(datum.value*2-round(datum.value*2))<0.01","value":-5},"value":-2.5}}},"y2":{"field":"hi"}}},
{"data":{"values":[{"x":0,"lo":0.7}]},"mark":{"type":"point","filled":true,"shape":"circle","size":32,"fill":"#3a3ae6","stroke":"#1c1ca8","strokeWidth":1,"opacity":1},
"encoding":{"x":{"field":"x","type":"quantitative","scale":{"domain":[-1,0.4],"nice":false,"zero":false},"axis":null},"y":{"field":"lo","type":"quantitative","scale":{"domain":[-1.3,1.8],"nice":false,"zero":false},"axis":null}}}
]},
{"width":1,"height":70,"view":{"stroke":null},"data":{"values":[{"x":0}]},"mark":{"type":"point","opacity":0},"encoding":{"x":{"field":"x","type":"quantitative","axis":null},"y":{"field":"x","type":"quantitative","axis":null}}},
{"width":70,"height":70,"resolve":{"axis":{"x":"independent","y":"independent"}},"layer":[
{"data":{"values":[{"x":-0.4,"lo":0.9,"hi":1.55},{"x":0.3,"lo":0.45,"hi":1.15},{"x":1,"lo":-0.05,"hi":0.75}]},"mark":{"type":"area","style":"redhatch","clip":true},
"encoding":{"x":{"field":"x","type":"quantitative","scale":{"domain":[-0.4,1],"nice":false,"zero":false},"axis":{"orient":"bottom","values":[-0.4,-0.3,-0.2,-0.1,0,0.1,0.2,0.3,0.4,0.5,0.6,0.7,0.8,0.9,1],"labelExpr":"abs(datum.value*2-round(datum.value*2))<0.01 ? format(datum.value,'.1f') : ''","tickSize":{"condition":{"test":"abs(datum.value*2-round(datum.value*2))<0.01","value":-5},"value":-2.5},"title":"Δ₁"}},
"y":{"field":"lo","type":"quantitative","scale":{"domain":[-1.3,1.8],"nice":false,"zero":false},"axis":{"orient":"left","values":[-1.2,-1,-0.8,-0.6,-0.4,-0.2,0,0.2,0.4,0.6,0.8,1,1.2,1.4,1.6,1.8],"labelExpr":"abs(datum.value*2-round(datum.value*2))<0.01 ? format(datum.value,'.1f') : ''","tickSize":{"condition":{"test":"abs(datum.value*2-round(datum.value*2))<0.01","value":-5},"value":-2.5},"title":"[Si/C]"}},"y2":{"field":"hi"}}},
{"data":{"values":[{"x":0.2,"lo":0.66,"hi":0.72},{"x":0.35,"lo":0.58,"hi":0.8},{"x":0.5,"lo":0.55,"hi":0.82},{"x":0.65,"lo":0.55,"hi":0.74},{"x":0.8,"lo":0.5,"hi":0.78},{"x":0.9,"lo":0.55,"hi":0.75},{"x":1,"lo":0.52,"hi":0.72}]},"mark":{"type":"area","style":"blackhatch","clip":true},
"encoding":{"x":{"field":"x","type":"quantitative","scale":{"domain":[-0.4,1],"nice":false,"zero":false},"axis":{"orient":"top","values":[-0.4,-0.3,-0.2,-0.1,0,0.1,0.2,0.3,0.4,0.5,0.6,0.7,0.8,0.9,1],"labels":false,"title":null,"tickSize":{"condition":{"test":"abs(datum.value*2-round(datum.value*2))<0.01","value":-5},"value":-2.5}}},
"y":{"field":"lo","type":"quantitative","scale":{"domain":[-1.3,1.8],"nice":false,"zero":false},"axis":{"orient":"right","values":[-1.2,-1,-0.8,-0.6,-0.4,-0.2,0,0.2,0.4,0.6,0.8,1,1.2,1.4,1.6,1.8],"labels":false,"title":null,"tickSize":{"condition":{"test":"abs(datum.value*2-round(datum.value*2))<0.01","value":-5},"value":-2.5}}},"y2":{"field":"hi"}}},
{"data":{"values":[{"x":0.5,"lo":0.72}]},"mark":{"type":"point","filled":true,"shape":"circle","size":32,"fill":"#3a3ae6","stroke":"#1c1ca8","strokeWidth":1,"opacity":1},
"encoding":{"x":{"field":"x","type":"quantitative","scale":{"domain":[-0.4,1],"nice":false,"zero":false},"axis":null},"y":{"field":"lo","type":"quantitative","scale":{"domain":[-1.3,1.8],"nice":false,"zero":false},"axis":null}}}
]},
{"width":70,"height":70,"resolve":{"axis":{"x":"independent","y":"independent"}},"layer":[
{"data":{"values":[{"x":-1,"lo":-0.1,"hi":1.55},{"x":-0.5,"lo":0.0,"hi":1.47},{"x":0,"lo":0.08,"hi":1.38}]},"mark":{"type":"area","style":"redhatch","clip":true},
"encoding":{"x":{"field":"x","type":"quantitative","scale":{"domain":[-1,0],"nice":false,"zero":false},"axis":{"orient":"bottom","values":[-1,-0.9,-0.8,-0.7,-0.6,-0.5,-0.4,-0.3,-0.2,-0.1,0],"labelExpr":"abs(datum.value*2-round(datum.value*2))<0.01 ? format(datum.value,'.1f') : ''","tickSize":{"condition":{"test":"abs(datum.value*2-round(datum.value*2))<0.01","value":-5},"value":-2.5},"title":"Δ₂"}},
"y":{"field":"lo","type":"quantitative","scale":{"domain":[-1.3,1.8],"nice":false,"zero":false},"axis":{"orient":"left","values":[-1.2,-1,-0.8,-0.6,-0.4,-0.2,0,0.2,0.4,0.6,0.8,1,1.2,1.4,1.6,1.8],"labelExpr":"abs(datum.value*2-round(datum.value*2))<0.01 ? format(datum.value,'.1f') : ''","tickSize":{"condition":{"test":"abs(datum.value*2-round(datum.value*2))<0.01","value":-5},"value":-2.5},"title":null}},"y2":{"field":"hi"}}},
{"data":{"values":[{"x":-1,"lo":0.75,"hi":0.85},{"x":-0.85,"lo":0.68,"hi":0.8},{"x":-0.7,"lo":0.62,"hi":0.76},{"x":-0.55,"lo":0.52,"hi":0.65},{"x":-0.45,"lo":0.58,"hi":0.75},{"x":-0.35,"lo":0.55,"hi":0.72},{"x":-0.25,"lo":0.45,"hi":0.58},{"x":-0.15,"lo":0.48,"hi":0.6},{"x":0,"lo":0.42,"hi":0.52}]},"mark":{"type":"area","style":"blackhatch","clip":true},
"encoding":{"x":{"field":"x","type":"quantitative","scale":{"domain":[-1,0],"nice":false,"zero":false},"axis":{"orient":"top","values":[-1,-0.9,-0.8,-0.7,-0.6,-0.5,-0.4,-0.3,-0.2,-0.1,0],"labels":false,"title":null,"tickSize":{"condition":{"test":"abs(datum.value*2-round(datum.value*2))<0.01","value":-5},"value":-2.5}}},
"y":{"field":"lo","type":"quantitative","scale":{"domain":[-1.3,1.8],"nice":false,"zero":false},"axis":{"orient":"right","values":[-1.2,-1,-0.8,-0.6,-0.4,-0.2,0,0.2,0.4,0.6,0.8,1,1.2,1.4,1.6,1.8],"labels":false,"title":null,"tickSize":{"condition":{"test":"abs(datum.value*2-round(datum.value*2))<0.01","value":-5},"value":-2.5}}},"y2":{"field":"hi"}}},
{"data":{"values":[{"x":-0.7,"lo":0.7}]},"mark":{"type":"point","filled":true,"shape":"circle","size":32,"fill":"#3a3ae6","stroke":"#1c1ca8","strokeWidth":1,"opacity":1},
"encoding":{"x":{"field":"x","type":"quantitative","scale":{"domain":[-1,0],"nice":false,"zero":false},"axis":null},"y":{"field":"lo","type":"quantitative","scale":{"domain":[-1.3,1.8],"nice":false,"zero":false},"axis":null}}}
]},
{"width":70,"height":70,"resolve":{"axis":{"x":"independent","y":"independent"}},"layer":[
{"data":{"values":[{"x":-1,"lo":-0.08,"hi":1.08},{"x":-0.5,"lo":0.35,"hi":1.28},{"x":0,"lo":0.72,"hi":1.45},{"x":0.4,"lo":1.0,"hi":1.55}]},"mark":{"type":"area","style":"redhatch","clip":true},
"encoding":{"x":{"field":"x","type":"quantitative","scale":{"domain":[-1,0.4],"nice":false,"zero":false},"axis":{"orient":"bottom","values":[-1,-0.9,-0.8,-0.7,-0.6,-0.5,-0.4,-0.3,-0.2,-0.1,0,0.1,0.2,0.3,0.4],"labelExpr":"abs(datum.value*2-round(datum.value*2))<0.01 ? format(datum.value,'.1f') : ''","tickSize":{"condition":{"test":"abs(datum.value*2-round(datum.value*2))<0.01","value":-5},"value":-2.5},"title":"Δ₃"}},
"y":{"field":"lo","type":"quantitative","scale":{"domain":[-1.3,1.8],"nice":false,"zero":false},"axis":{"orient":"left","values":[-1.2,-1,-0.8,-0.6,-0.4,-0.2,0,0.2,0.4,0.6,0.8,1,1.2,1.4,1.6,1.8],"labelExpr":"abs(datum.value*2-round(datum.value*2))<0.01 ? format(datum.value,'.1f') : ''","tickSize":{"condition":{"test":"abs(datum.value*2-round(datum.value*2))<0.01","value":-5},"value":-2.5},"title":null}},"y2":{"field":"hi"}}},
{"data":{"values":[{"x":-1,"lo":0.48,"hi":0.68},{"x":-0.75,"lo":0.52,"hi":0.78},{"x":-0.5,"lo":0.58,"hi":0.8},{"x":-0.25,"lo":0.62,"hi":0.78},{"x":0,"lo":0.68,"hi":0.78},{"x":0.4,"lo":0.76,"hi":0.8}]},"mark":{"type":"area","style":"blackhatch","clip":true},
"encoding":{"x":{"field":"x","type":"quantitative","scale":{"domain":[-1,0.4],"nice":false,"zero":false},"axis":{"orient":"top","values":[-1,-0.9,-0.8,-0.7,-0.6,-0.5,-0.4,-0.3,-0.2,-0.1,0,0.1,0.2,0.3,0.4],"labels":false,"title":null,"tickSize":{"condition":{"test":"abs(datum.value*2-round(datum.value*2))<0.01","value":-5},"value":-2.5}}},
"y":{"field":"lo","type":"quantitative","scale":{"domain":[-1.3,1.8],"nice":false,"zero":false},"axis":{"orient":"right","values":[-1.2,-1,-0.8,-0.6,-0.4,-0.2,0,0.2,0.4,0.6,0.8,1,1.2,1.4,1.6,1.8],"labels":false,"title":null,"tickSize":{"condition":{"test":"abs(datum.value*2-round(datum.value*2))<0.01","value":-5},"value":-2.5}}},"y2":{"field":"hi"}}},
{"data":{"values":[{"x":-0.5,"lo":0.7}]},"mark":{"type":"point","filled":true,"shape":"circle","size":32,"fill":"#3a3ae6","stroke":"#1c1ca8","strokeWidth":1,"opacity":1},
"encoding":{"x":{"field":"x","type":"quantitative","scale":{"domain":[-1,0.4],"nice":false,"zero":false},"axis":null},"y":{"field":"lo","type":"quantitative","scale":{"domain":[-1.3,1.8],"nice":false,"zero":false},"axis":null}}}
]}
]
}
